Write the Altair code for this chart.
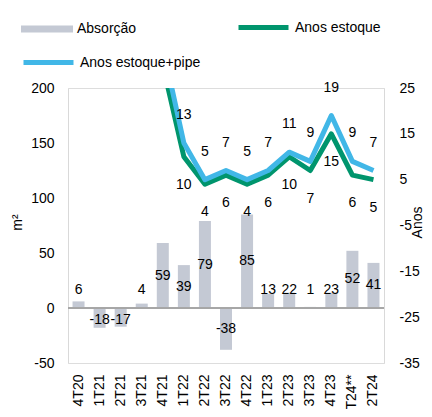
import altair as alt
import pandas as pd

categories = ["4T20", "1T21", "2T21", "3T21", "4T21", "1T22", "2T22", "3T22",
              "4T22", "1T23", "2T23", "3T23", "4T23", "1T24**", "2T24"]
absorcao_bars = [6, -18, -17, 4, 59, 39, 79, -38, 85, 13, 14, 1, 14, 52, 41]
absorcao_labels = [6, -18, -17, 4, 59, 39, 79, -38, 85, 13, 22, 1, 23, 52, 41]
anos_estoque = [None, None, None, None, 30, 10, 4, 6, 4, 6, 10, 7, 15, 6, 5]
anos_estoque_pipe = [None, None, None, None, 34, 13, 5, 7, 5, 7, 11, 9, 19, 9, 7]

GRAY = "#C4C9D4"
GREEN = "#00956D"
BLUE = "#41B7E7"
FONT = "Liberation Sans"

df = pd.DataFrame({
    "cat": categories,
    "bar": absorcao_bars,
    "barlabel": absorcao_labels,
    "green": anos_estoque,
    "blue": anos_estoque_pipe,
})

xaxis = alt.Axis(title=None, labelAngle=270, labelAlign="right", labelBaseline="middle",
                 labelFontSize=14, labelFont=FONT, labelColor="#000000", labelPadding=11,
                 domain=False, ticks=False, grid=False)
X = alt.X("cat:N", sort=categories, axis=xaxis,
          scale=alt.Scale(paddingInner=0, paddingOuter=0))

yleft_scale = alt.Scale(domain=[-50, 200], nice=False, zero=False)
yright_scale = alt.Scale(domain=[-35, 25], nice=False, zero=False)

base = alt.Chart(df)

bars = base.transform_calculate(serie="'Absorção'").mark_bar(size=12).encode(
    x=X,
    y=alt.Y("bar:Q", scale=yleft_scale,
            axis=alt.Axis(values=[-50, 0, 50, 100, 150, 200], title="m²", grid=False,
                          ticks=False, domainColor="#D9D9D9", labelFontSize=14,
                          labelFont=FONT, labelColor="#000000", labelPadding=14,
                          labelExpr="toString(datum.value)",
                          titleFont=FONT, titleFontSize=14, titleFontWeight="normal",
                          titleColor="#000000", titleAngle=270, titleX=-51, titleY=134,
                          titleAlign="center", titleBaseline="middle")),
    color=alt.Color("serie:N", scale=alt.Scale(domain=["Absorção"], range=[GRAY]),
                    legend=alt.Legend(title=None, orient="none", legendX=-47, legendY=-85,
                                      symbolType="M-1,-0.135L1,-0.135L1,0.135L-1,0.135Z",
                                      symbolSize=2704, symbolStrokeWidth=0,
                                      labelFontSize=14, labelFont=FONT, labelColor="#000000",
                                      labelOffset=4, padding=0)),
)

bar_text = base.transform_calculate(
    pos="datum.bar >= 0 ? max(datum.bar / 2, 16) : min(datum.bar / 2, -11)",
    txt="toString(datum.barlabel)",
).mark_text(fontSize=14, font=FONT, color="#000000", baseline="middle").encode(
    x=X,
    y=alt.Y("pos:Q", scale=yleft_scale),
    text=alt.Text("txt:N"),
)

zero_rule = base.mark_rule(color="#A6A6A6", strokeWidth=1).encode(
    y=alt.datum(0, scale=yleft_scale),
)

left = alt.layer(bars, bar_text, zero_rule)

green_line = base.transform_calculate(serie="'Anos estoque'").mark_line(
    strokeWidth=5, clip=True, strokeJoin="round").encode(
    x=X,
    y=alt.Y("green:Q", scale=yright_scale,
            axis=alt.Axis(orient="right", values=[-35, -25, -15, -5, 5, 15, 25], title="Anos",
                          grid=False, ticks=False, domainColor="#D9D9D9", labelFontSize=14,
                          labelFont=FONT, labelColor="#000000", labelPadding=15,
                          labelExpr="toString(datum.value)",
                          titleFont=FONT, titleFontSize=14, titleFontWeight="normal",
                          titleColor="#000000", titleAngle=270, titleX=33, titleY=134,
                          titleAlign="center", titleBaseline="middle")),
    color=alt.Color("serie:N", scale=alt.Scale(domain=["Anos estoque"], range=[GREEN]),
                    legend=alt.Legend(title=None, orient="none", legendX=168, legendY=-88,
                                      symbolType="stroke", symbolSize=2500,
                                      symbolStrokeWidth=5, labelFontSize=14, labelFont=FONT,
                                      labelColor="#000000", labelOffset=4, padding=0)),
)
green_text = base.transform_filter("datum.green != null && datum.green <= 25").mark_text(
    fontSize=14, font=FONT, color="#000000", baseline="middle", dy=28).encode(
    x=X,
    y=alt.Y("green:Q", scale=yright_scale),
    text=alt.Text("green:Q"),
)
green = alt.layer(green_line, green_text)

blue_line = base.transform_calculate(serie="'Anos estoque+pipe'").mark_line(
    strokeWidth=5, clip=True, strokeJoin="round").encode(
    x=X,
    y=alt.Y("blue:Q", scale=yright_scale, axis=None),
    color=alt.Color("serie:N", scale=alt.Scale(domain=["Anos estoque+pipe"], range=[BLUE]),
                    legend=alt.Legend(title=None, orient="none", legendX=-47, legendY=-53,
                                      symbolType="stroke", symbolSize=2500,
                                      symbolStrokeWidth=5, labelFontSize=14, labelFont=FONT,
                                      labelColor="#000000", labelOffset=4, padding=0)),
)
blue_text = base.transform_filter("datum.blue != null && datum.blue <= 25").mark_text(
    fontSize=14, font=FONT, color="#000000", baseline="middle", dy=-28).encode(
    x=X,
    y=alt.Y("blue:Q", scale=yright_scale),
    text=alt.Text("blue:Q"),
)
blue = alt.layer(blue_line, blue_text)

chart = alt.layer(left, green, blue).resolve_scale(
    y="independent", color="independent"
).properties(
    width=316, height=275,
    autosize=alt.AutoSizeParams(type="none"),
    padding={"left": 60, "top": 80, "right": 40, "bottom": 46},
).configure_view(stroke=None).configure(font=FONT)

chart.save("out.html", embed_options={"renderer": "svg", "actions": False})
